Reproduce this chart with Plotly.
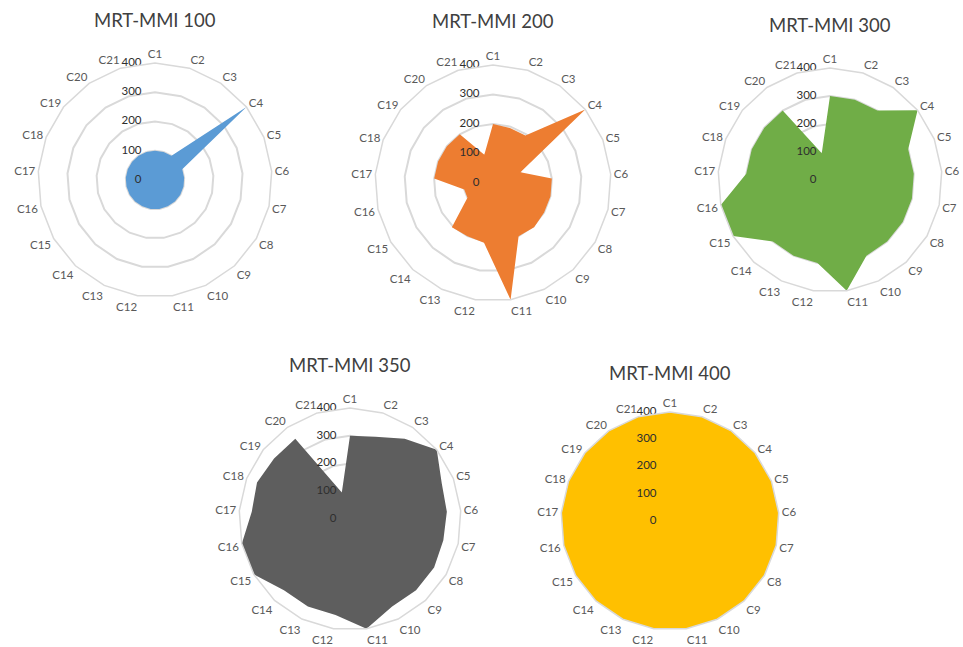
import plotly.graph_objects as go

categories = [f"C{i}" for i in range(1, 22)]

mmi_100 = [100, 100, 100, 400, 100, 100, 100, 100, 100, 100, 100,
           100, 100, 100, 100, 100, 100, 100, 100, 100, 100]
mmi_200 = [200, 195, 195, 400, 100, 200, 200, 200, 205, 200, 400,
           205, 200, 205, 100, 100, 200, 200, 200, 200, 100]
mmi_300 = [300, 300, 300, 400, 300, 300, 300, 300, 300, 300, 400,
           300, 300, 300, 400, 400, 300, 300, 300, 300, 100]
mmi_350 = [300, 310, 350, 400, 355, 350, 345, 350, 350, 350, 400,
           350, 350, 350, 400, 400, 355, 360, 350, 350, 100]
mmi_400 = [400] * 21

titles = ["MRT-MMI 100", "MRT-MMI 200", "MRT-MMI 300", "MRT-MMI 350", "MRT-MMI 400"]
series = [mmi_100, mmi_200, mmi_300, mmi_350, mmi_400]
colors = ["#5B9BD5", "#ED7D31", "#70AD47", "#5E5E5E", "#FFC000"]

radial_ticks = [0, 100, 200, 300, 400]
radial_labels = [str(v) for v in radial_ticks]

W, H = 963, 647
# (center x, center y, radius, title y) in pixels for each radar panel
panels = [
    (155, 180, 117, 20),
    (493, 183, 118, 21),
    (830, 180, 112, 25),
    (350, 519, 111, 365),
    (670, 521, 109, 373),
]

FONT = "Lato"
TEXT = "#595959"
VALUE_TEXT = "#2E2E2E"
GRID = "#D9D9D9"

# with a linear grid the pole itself counts as outside the polygon,
# so the "0" label is placed a hair away from it
label_r = [max(v, 1e-6) for v in radial_ticks]

fig = go.Figure()
layout = {}
annotations = []

for i, (vals, col, title, (cx, cy, r, ty)) in enumerate(zip(series, colors, titles, panels)):
    key = "polar" if i == 0 else f"polar{i + 1}"
    fig.add_trace(go.Scatterpolar(
        r=vals,
        theta=categories,
        mode="none",
        fill="toself",
        fillcolor=col,
        subplot=key,
        showlegend=False,
        hoverinfo="r+theta",
    ))
    # radial value labels, right-aligned just left of the vertical axis;
    # an invisible marker sets their distance from the axis
    fig.add_trace(go.Scatterpolar(
        r=label_r,
        theta=[categories[0]] * len(radial_ticks),
        mode="markers+text",
        marker=dict(size=20, color="rgba(0,0,0,0)"),
        text=radial_labels,
        textposition="middle left",
        textfont=dict(family=FONT, size=11.5, color=VALUE_TEXT),
        cliponaxis=False,
        subplot=key,
        showlegend=False,
        hoverinfo="skip",
    ))
    layout[key] = dict(
        domain=dict(
            x=[(cx - r) / W, (cx + r) / W],
            y=[(H - cy - r) / H, (H - cy + r) / H],
        ),
        gridshape="linear",
        bgcolor="rgba(0,0,0,0)",
        radialaxis=dict(
            range=[0, 400],
            tickvals=radial_ticks,
            angle=90,
            showticklabels=False,
            showline=False,
            ticks="",
            gridcolor=GRID,
            gridwidth=1.5,
        ),
        angularaxis=dict(
            type="category",
            categoryarray=categories,
            direction="clockwise",
            rotation=90,
            showgrid=False,
            showline=True,
            linecolor=GRID,
            linewidth=1.5,
            ticks="",
            tickfont=dict(family=FONT, size=11.5, color=TEXT),
        ),
    )
    annotations.append(dict(
        x=cx / W, y=1 - ty / H, xref="paper", yref="paper",
        text=title, showarrow=False, xanchor="center", yanchor="middle",
        font=dict(family=FONT, size=18.5, color="#404040"),
    ))

fig.update_layout(
    width=W, height=H,
    margin=dict(l=0, r=0, t=0, b=0),
    paper_bgcolor="white",
    plot_bgcolor="white",
    annotations=annotations,
    **layout,
)

fig.write_html("out.html")
